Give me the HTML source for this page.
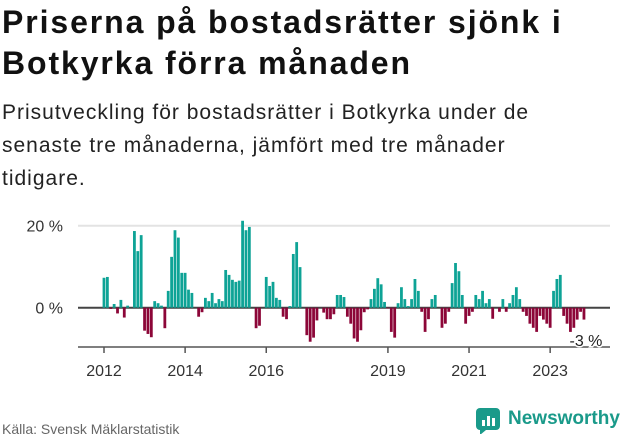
<!DOCTYPE html>
<html><head><meta charset="utf-8">
<style>
body{margin:0;background:#fff;font-family:"Liberation Sans","DejaVu Sans",sans-serif;}
#wrap{position:relative;width:631px;height:439px;overflow:hidden;}
h1{position:absolute;left:2px;top:2px;margin:0;font-size:32px;letter-spacing:1.9px;line-height:41px;font-weight:bold;color:#111;}
.sub{position:absolute;left:2px;top:96px;margin:0;font-size:21px;letter-spacing:1px;line-height:33px;color:#222;}
svg{position:absolute;left:0;top:0;}
.src{position:absolute;left:2px;top:421px;font-size:14px;color:#666;}
.logo{position:absolute;left:476px;top:406px;height:28px;}
.logo span{position:absolute;left:32px;top:2px;font-size:19px;font-weight:bold;color:#1a9a8a;}
</style></head><body>
<div id="wrap">
<h1>Priserna på bostadsrätter sjönk i<br>Botkyrka förra månaden</h1>
<p class="sub">Prisutveckling för bostadsrätter i Botkyrka under de<br>senaste tre månaderna, jämfört med tre månader<br>tidigare.</p>
<svg id="chart" width="631" height="439"></svg>
<div class="src">Källa: Svensk Mäklarstatistik</div>
<div class="logo">
<svg width="26" height="26" viewBox="0 0 26 26" style="position:absolute;left:0;top:2px"><rect x="0" y="0" width="24" height="22" rx="4" fill="#1a9a8a"/><polygon points="4,22 4,27 10,22" fill="#1a9a8a"/><rect x="6" y="12" width="3" height="6" fill="#fff"/><rect x="11" y="8" width="3" height="10" fill="#fff"/><rect x="16" y="10" width="3" height="8" fill="#fff"/></svg>
<span>Newsworthy</span></div>
</div>
<script>
const values = [7.3,7.5,-0.3,0.9,-1.4,1.9,-2.4,0.5,0,18.7,13.8,17.7,-5.6,-6.4,-7.2,1.6,1.1,0.5,-5.0,4.1,12.4,18.9,17.1,8.5,8.5,4.4,3.6,0,-2.2,
-1.1,2.4,1.6,3.6,1.1,2.1,1.6,9.2,8.0,6.8,6.3,6.6,21.2,18.9,19.7,0,-5.0,-4.4,0,7.5,5.3,6.3,2.4,1.9,-2.2,-2.8,0.4,13.1,16.0,
9.9,0,-6.7,-8.3,-7.3,-3.1,0,-1.2,-2.8,-2.8,-1.6,3.1,3.1,2.6,-2.2,-3.9,-7.5,-8.3,-5.5,-1.1,-0.4,2.1,4.6,7.2,5.7,1.4,-0.2,-5.9,-7.3,
1.1,5.0,2.1,0.4,2.1,7.0,4.1,-1.0,-5.9,-2.8,2.1,3.1,0,-4.9,-3.9,-1.0,6.0,10.9,8.9,3.1,-3.9,-2.0,-1.0,3.1,2.1,4.1,1.1,2.1,-2.7,
0,-1.0,2.1,-1.0,1.1,3.1,5.0,2.1,-1.0,-2.0,-3.9,-4.9,-5.9,-2.0,-2.9,-3.9,-4.9,4.1,7.0,8.0,-2.0,-3.9,-5.9,-4.9,-2.9,-1.0,-2.9];
const yTicks = [0,20];
const yTickLabels = ["0 %","20 %"];
const xTickYears = [2012,2014,2016,2019,2021,2023];
const startYear = 2012;
const NS="http://www.w3.org/2000/svg";
const svg=document.getElementById('chart');
const x0=104, monthW=3.38, zeroY=307.7, pxPerPct=4.1;
const xScale=i=>x0+i*monthW;
const yScale=v=>zeroY-v*pxPerPct;
function mk(tag,attrs){const e=document.createElementNS(NS,tag);for(const k in attrs)e.setAttribute(k,attrs[k]);svg.appendChild(e);return e;}
yTicks.forEach((t,i)=>{
  const g=mk('line',{x1:78,x2:610,y1:yScale(t),y2:yScale(t),stroke:t===0?'#444':'#e3e3e3','stroke-width':2});
  
  
  const l=mk('text',{x:63,y:yScale(t)+6,'text-anchor':'end','font-size':16,fill:'#333','font-family':'Liberation Sans, sans-serif'});
  l.textContent=yTickLabels[i];
  
  
});
values.forEach((v,i)=>{
  if(v===0)return;
  const y=Math.min(yScale(v),zeroY), h=Math.abs(v)*pxPerPct;
  const r=mk('rect',{x:xScale(i)-1.4,y:y,width:2.8,height:h,fill:v>0?'#0ea396':'#8c0638'});
  
  
});
const ax=mk('line',{x1:78,x2:610,y1:347,y2:347,stroke:'#555','stroke-width':1.5});


xTickYears.forEach(yr=>{
  const x=xScale((yr-startYear)*12);
  const t=mk('line',{x1:x,x2:x,y1:347,y2:353,stroke:'#555','stroke-width':1.5});
  
  
  const l=mk('text',{x:x,y:376,'text-anchor':'middle','font-size':16,fill:'#333','font-family':'Liberation Sans, sans-serif'});
  l.textContent=yr;
  
  
});
const last=values.length-1;
const lbl=mk('text',{x:xScale(last)+2,y:346,'text-anchor':'middle','font-size':16,fill:'#222',stroke:'#fff','stroke-width':3,'paint-order':'stroke','font-family':'Liberation Sans, sans-serif'});
lbl.textContent=Math.round(values[last])+' %';


</script>
</body></html>
